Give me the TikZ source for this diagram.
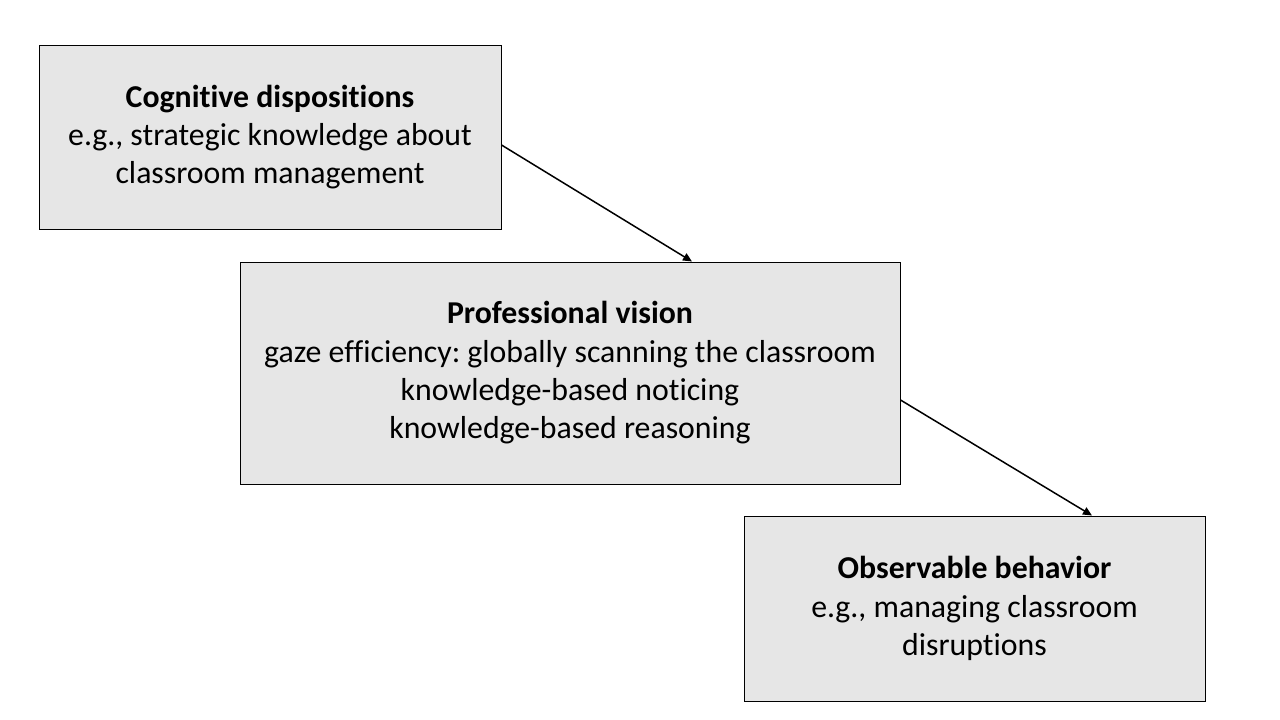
\documentclass[tikz,border=0pt]{standalone}
\usepackage{fontspec}
\setmainfont{Carlito}[Ligatures={NoCommon}]
\usetikzlibrary{arrows.meta,positioning,calc}
\definecolor{boxgray}{RGB}{230,230,230}

\begin{document}
\frenchspacing
\begin{tikzpicture}[
  x=1pt, y=-1pt,
  box/.style={draw, fill=boxgray, line width=1pt, align=center, inner sep=0pt,
    font=\fontsize{31.8}{38.3}\selectfont},
  >={Triangle[length=9pt,width=8pt]}, line width=1.5pt
]
  \useasboundingbox (0,0) rectangle (1280,720);

  \node[box, minimum width=462pt, minimum height=184pt] (cog) at (270,137)
    {\textbf{Cognitive dispositions}\\e.g., strategic knowledge about\\classroom management};
  \node[box, minimum width=660pt, minimum height=222pt] (pro) at (570,373)
    {\textbf{Professional vision}\\gaze efficiency: globally scanning the classroom\\knowledge-based noticing\\knowledge-based reasoning};
  \node[box, minimum width=461pt, minimum height=185pt] (obs) at (974.5,608.5)
    {\textbf{Observable behavior}\\e.g., managing classroom\\disruptions};

  \draw[->] ([yshift=-8pt]cog.east) -- ([xshift=122pt]pro.north);
  \draw[->] ([yshift=-27pt]pro.east) -- ([xshift=117.5pt]obs.north);
\end{tikzpicture}
\end{document}
